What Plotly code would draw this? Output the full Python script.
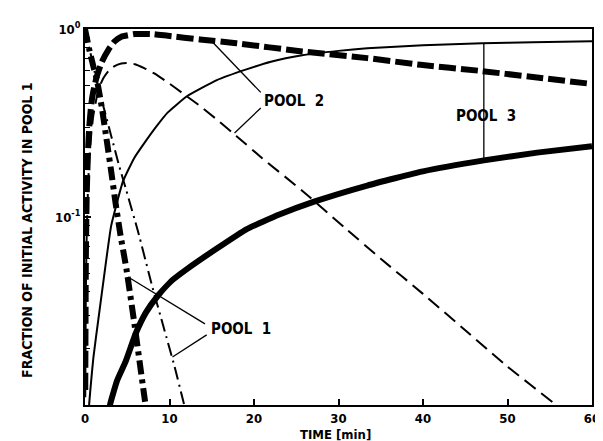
import math
import plotly.graph_objects as go

# ---------------- data ----------------
# Pool 1 (dash-dot), thick and thin
pool1_thick_t = [0.0, 0.5, 1.0, 1.4, 2.0, 2.6, 3.1, 3.6, 4.2, 4.9, 5.9, 7.1, 7.5]
pool1_thick_v = [1.0, 0.78, 0.63, 0.54, 0.38, 0.25, 0.175, 0.12, 0.08, 0.053, 0.026, 0.0105, 0.008]

pool1_thin_t = [0.0, 0.5, 1.0, 1.6, 2.3, 3.1, 4.0, 4.9, 6.3, 8.0, 9.3, 10.6, 11.7, 12.2]
pool1_thin_v = [1.0, 0.80, 0.63, 0.48, 0.37, 0.27, 0.19, 0.138, 0.083, 0.042, 0.026, 0.016, 0.0102, 0.0085]

# Pool 2 (dashed), thick and thin
pool2_thick_t = [0.03, 0.1, 0.2, 0.35, 0.5, 0.75, 1.0, 1.4, 2.0, 2.8, 3.5, 4.3, 5.9, 8.0, 9.8,
                 13.6, 17.9, 25.7, 33.4, 39.7, 46.6, 53.0, 60.0]
pool2_thick_v = [0.012, 0.06, 0.13, 0.22, 0.3, 0.4, 0.47, 0.56, 0.67, 0.78, 0.86, 0.91, 0.94, 0.94, 0.92,
                 0.88, 0.84, 0.76, 0.70, 0.645, 0.60, 0.555, 0.51]

pool2_thin_t = [0.03, 0.1, 0.2, 0.35, 0.5, 0.75, 1.0, 1.6, 2.2, 2.8, 3.5, 4.3, 5.0, 5.9, 7.0, 8.2,
                9.8, 11.7, 13.6, 15.6, 17.9, 21.0, 25.7, 30.7, 35.0, 40.0, 45.0, 50.0, 55.5, 56.5]
pool2_thin_v = [0.011, 0.04, 0.08, 0.14, 0.2, 0.28, 0.35, 0.48, 0.55, 0.60, 0.635, 0.655, 0.66, 0.65, 0.62, 0.58,
                0.52, 0.45, 0.39, 0.33, 0.27, 0.205, 0.138, 0.088, 0.06, 0.039, 0.025, 0.016, 0.0102, 0.0093]

# Pool 3 (solid), thick and thin
pool3_thick_t = [2.8, 3.0, 3.8, 4.8, 6.0, 7.2, 8.6, 10.3, 12.1, 15.6, 19.1, 23.0, 27.2, 33.4, 40.0, 47.2, 53.5, 60.0]
pool3_thick_v = [0.009, 0.0102, 0.0135, 0.017, 0.024, 0.031, 0.038, 0.046, 0.053, 0.068, 0.086, 0.103, 0.121,
                 0.147, 0.175, 0.20, 0.22, 0.238]

pool3_thin_t = [0.4, 0.5, 0.7, 1.0, 1.6, 2.3, 3.1, 4.5, 5.8, 7.1, 8.5, 9.8, 12.1, 15.6, 19.1, 22.0,
                25.7, 30.0, 33.4, 40.0, 47.0, 53.0, 60.0]
pool3_thin_v = [0.0085, 0.0102, 0.013, 0.018, 0.029, 0.05, 0.09, 0.155, 0.205, 0.25, 0.305, 0.36, 0.44, 0.535,
                0.61, 0.67, 0.725, 0.765, 0.79, 0.82, 0.84, 0.85, 0.86]

# label leader lines (t, value)
pool2_lead1_t = [15.0, 20.8]
pool2_lead1_v = [0.86, 0.46]
pool2_lead2_t = [20.8, 17.7]
pool2_lead2_v = [0.38, 0.28]
pool1_lead1_t = [5.1, 14.2]
pool1_lead1_v = [0.048, 0.027]
pool1_lead2_t = [14.4, 10.35]
pool1_lead2_v = [0.0236, 0.018]
pool3_lead_t = [47.2, 47.2]
pool3_lead_v = [0.835, 0.20]

x_ticks = [0, 10, 20, 30, 40, 50, 60]
y_major = [0.1, 1.0]
y_major_text = ["10<sup>-1</sup>", "10<sup>0</sup>"]
y_minor = [k * 0.01 for k in range(2, 10)] + [k * 0.1 for k in range(2, 10)]

# ---------------- figure ----------------
W, H = 603, 441
L, R, T, B = 77, 592, 21, 397
FONT = "DejaVu Sans Condensed, DejaVu Sans, sans-serif"

fig = go.Figure()


def add_line(t, v, width, dash):
    fig.add_trace(go.Scatter(x=t, y=v, mode="lines",
                             line=dict(color="black", width=width, dash=dash, shape="spline", smoothing=0.4),
                             showlegend=False, hoverinfo="skip"))


def add_lead(t, v):
    fig.add_trace(go.Scatter(x=t, y=v, mode="lines", line=dict(color="black", width=1.3),
                             showlegend=False, hoverinfo="skip"))


add_line(pool3_thin_t, pool3_thin_v, 2.0, "solid")
add_line(pool2_thin_t, pool2_thin_v, 2.0, "14px,7px")
add_line(pool1_thin_t, pool1_thin_v, 2.0, "13px,5px,2px,5px")
add_line(pool3_thick_t, pool3_thick_v, 6.0, "solid")
add_line(pool2_thick_t, pool2_thick_v, 6.0, "17px,5px")
add_line(pool1_thick_t, pool1_thick_v, 6.0, "14px,5px,4px,5px")

for tt, vv in [(pool2_lead1_t, pool2_lead1_v), (pool2_lead2_t, pool2_lead2_v),
               (pool1_lead1_t, pool1_lead1_v), (pool1_lead2_t, pool1_lead2_v),
               (pool3_lead_t, pool3_lead_v)]:
    add_lead(tt, vv)

# invisible trace on an overlaying axis that carries the minor y ticks
fig.add_trace(go.Scatter(x=[30], y=[0.1], mode="markers", marker=dict(opacity=0), yaxis="y2",
                         showlegend=False, hoverinfo="skip"))


def px2paper(px, py):
    return (px - L) / (R - L), (B - py) / (B - T)


annotations = []
for text, px, py in [("POOL  2", 257, 93), ("POOL  3", 452, 108), ("POOL  1", 203, 321)]:
    xp, yp = px2paper(px, py)
    annotations.append(dict(text=text, x=xp, y=yp, xref="paper", yref="paper", xanchor="left",
                            yanchor="middle", showarrow=False,
                            font=dict(family=FONT, size=15, color="black", weight="bold")))

xp, yp = px2paper(331, 426)
annotations.append(dict(text="TIME [min]", x=xp, y=yp, xref="paper", yref="paper", xanchor="center",
                        yanchor="middle", showarrow=False,
                        font=dict(family=FONT, size=13, color="black", weight="bold")))
xp, yp = px2paper(18, 222)
annotations.append(dict(text="FRACTION OF INITIAL ACTIVITY IN POOL 1", x=xp, y=yp, xref="paper", yref="paper",
                        xanchor="center", yanchor="middle", textangle=-90, showarrow=False,
                        font=dict(family=FONT, size=14, color="black", weight="bold")))

fig.update_layout(
    width=W, height=H,
    margin=dict(l=L, r=W - R, t=T, b=H - B),
    paper_bgcolor="white", plot_bgcolor="white",
    showlegend=False,
    annotations=annotations,
    xaxis=dict(range=[0, 60], tickvals=x_ticks, ticks="inside", ticklen=6, tickwidth=1.5, tickcolor="black",
               showline=True, linewidth=2, linecolor="black", mirror=True, showgrid=False, zeroline=False,
               tickfont=dict(family=FONT, size=13, color="black", weight="bold")),
    yaxis=dict(type="log", range=[-2, 0], tickvals=y_major, ticktext=y_major_text, ticks="inside", ticklen=6,
               tickwidth=1.5, tickcolor="black", showline=True, linewidth=2, linecolor="black", mirror=True,
               showgrid=False, zeroline=False,
               tickfont=dict(family=FONT, size=13, color="black", weight="bold")),
    yaxis2=dict(type="log", range=[-2, 0], overlaying="y", side="left", tickvals=y_minor, ticks="inside",
                ticklen=5, tickwidth=1.2, tickcolor="black", showticklabels=False, showgrid=False,
                zeroline=False, showline=False),
)

fig.write_html("out.html")
